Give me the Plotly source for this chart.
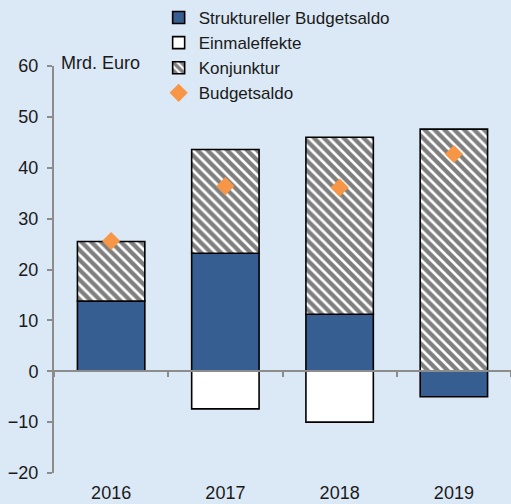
import plotly.graph_objects as go

# Budget balance decomposition, billions of euro
years = ["2016", "2017", "2018", "2019"]
strukturell = [13.8, 23.2, 11.2, -5.0]
einmaleffekte = [0.0, -7.4, -10.0, 0.0]
konjunktur = [11.7, 20.4, 34.8, 47.6]
budgetsaldo = [25.6, 36.4, 36.1, 42.7]

y_ticks = [-20, -10, 0, 10, 20, 30, 40, 50, 60]

BG = "rgb(219,232,245)"
AXIS = "rgb(140,140,140)"
FONT = "Liberation Sans, Arial, sans-serif"
outline = dict(color="black", width=1.6)

fig = go.Figure()
fig.add_trace(go.Bar(
    x=years, y=strukturell, name="Struktureller Budgetsaldo",
    marker=dict(color="rgb(54,94,145)", line=outline),
))
fig.add_trace(go.Bar(
    x=years, y=einmaleffekte, name="Einmaleffekte",
    marker=dict(color="white", line=outline),
))
fig.add_trace(go.Bar(
    x=years, y=konjunktur, name="Konjunktur",
    marker=dict(
        color="white", line=outline,
        pattern=dict(shape="\\", fgcolor="black", bgcolor="white",
                     size=7, solidity=0.62),
    ),
))
fig.add_trace(go.Scatter(
    x=years, y=budgetsaldo, name="Budgetsaldo", mode="markers",
    marker=dict(symbol="diamond", size=14, color="rgb(247,150,70)"),
))

# secondary x axis drawn at y = 0 to carry the category-boundary ticks
fig.add_trace(go.Scatter(x=years, y=[None] * 4, xaxis="x2",
                         showlegend=False, hoverinfo="skip"))

fig.update_layout(
    width=511, height=504,
    margin=dict(l=54, r=0, t=66, b=31, autoexpand=False),
    paper_bgcolor=BG, plot_bgcolor=BG,
    barmode="relative", bargap=0.41,
    font=dict(family=FONT, size=18, color="#1a1a1a"),
    showlegend=True,
    legend=dict(
        x=0.229, xanchor="left", y=1.004, yanchor="top",
        yref="container", bgcolor="rgba(0,0,0,0)",
        font=dict(size=17), tracegroupgap=0, itemwidth=30,
    ),
    xaxis=dict(
        type="category", range=[-0.5, 3.5],
        showline=False, showgrid=False, zeroline=False,
        ticks="outside", ticklen=3, tickcolor="rgba(0,0,0,0)",
        tickfont=dict(size=18),
    ),
    xaxis2=dict(
        type="category", range=[-0.5, 3.5], overlaying="x",
        anchor="free", position=0.25, side="bottom",
        showline=True, linecolor=AXIS, linewidth=2,
        ticks="outside", tickson="boundaries", ticklen=5,
        tickcolor=AXIS, tickwidth=2,
        showticklabels=False, showgrid=False, zeroline=False,
    ),
    yaxis=dict(
        range=[-20, 60], tickvals=y_ticks,
        showline=True, linecolor=AXIS, linewidth=2,
        ticks="outside", ticklen=5, tickcolor=AXIS, tickwidth=2,
        ticklabelstandoff=5,
        showgrid=False, zeroline=False, tickfont=dict(size=18),
    ),
    annotations=[dict(
        text="Mrd. Euro", xref="paper", yref="y", x=0.012, y=60,
        xanchor="left", yanchor="middle", yshift=3, showarrow=False,
        font=dict(size=18),
    )],
)

fig.write_html("out.html")
